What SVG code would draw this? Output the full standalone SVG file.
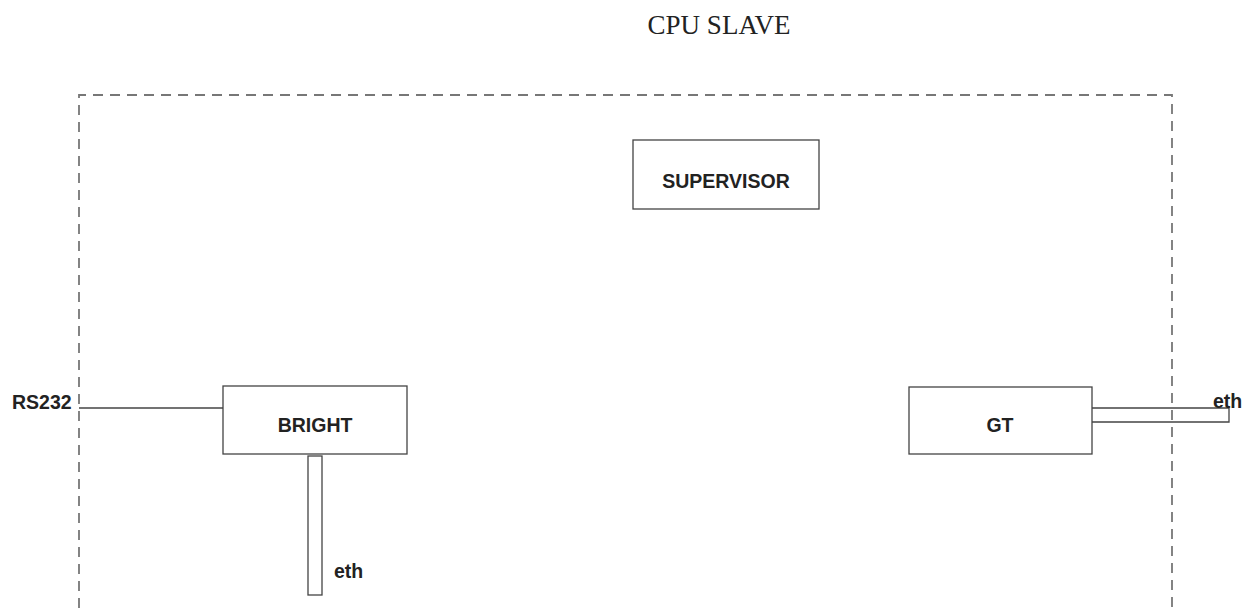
<svg xmlns="http://www.w3.org/2000/svg" width="1248" height="608" viewBox="0 0 1248 608">
<style>
.box{fill:#fff;stroke:#444;stroke-width:1.3}
.lbl{font-family:"Liberation Sans",Arial,sans-serif;font-weight:bold;font-size:19.5px;fill:#222}
.ttl{font-family:"Liberation Serif","Times New Roman",serif;font-size:27px;fill:#222}
.wire{fill:none;stroke:#444;stroke-width:1.3}
.dash{fill:none;stroke:#777;stroke-width:1.8;stroke-dasharray:10 7}
</style>
<rect width="1248" height="608" fill="#fff"/>
<text class="ttl" x="719" y="34" text-anchor="middle">CPU SLAVE</text>
<g id="boundary"><path class="dash" d="M79 608 V95 H1172 V608"/></g>
<g id="connectors">
<line class="wire" x1="79" y1="408" x2="223" y2="408"/>
<rect class="wire" x="308" y="456" width="14" height="139"/>
<path class="wire" d="M1092 408 H1229 V422 H1092"/>
</g>
<g id="supervisor"><rect class="box" x="633" y="140" width="186" height="69"/><text class="lbl" x="726" y="188" text-anchor="middle">SUPERVISOR</text></g>
<g id="bright"><rect class="box" x="223" y="386" width="184" height="68"/><text class="lbl" x="315" y="432" text-anchor="middle">BRIGHT</text></g>
<g id="gt"><rect class="box" x="909" y="387" width="183" height="67"/><text class="lbl" x="1000" y="432" text-anchor="middle">GT</text></g>
<g id="rs232"><text class="lbl" x="12" y="409">RS232</text></g>
<g id="eth-bright"><text class="lbl" x="334" y="578">eth</text></g>
<g id="eth-gt"><text class="lbl" x="1213" y="408">eth</text></g>
</svg>
